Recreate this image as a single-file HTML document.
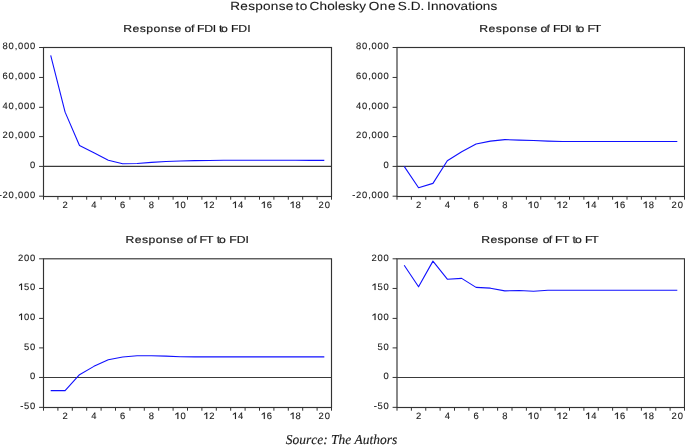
<!DOCTYPE html>
<html><head><meta charset="utf-8"><title>Response to Cholesky One S.D. Innovations</title><style>
html,body{margin:0;padding:0;background:#fff;}
svg{display:block;will-change:transform;}
text{font-family:"Liberation Sans",sans-serif;text-rendering:geometricPrecision;fill:#1a1a1a;stroke:#1a1a1a;}
text.tt{stroke-width:0.1px;}
text.pt{stroke-width:0.18px;}
text.lb{font-size:9.4px;stroke-width:0.12px;}
tspan.o1{fill:none;stroke:none;}
path.one{fill:#1a1a1a;stroke:#1a1a1a;stroke-width:0.12px;}
text.src{font-family:"Liberation Serif",serif;font-style:italic;stroke-width:0.15px;}
</style></head><body>
<svg width="685" height="448" viewBox="0 0 685 448">
<rect width="685" height="448" fill="#fff"/>
<text class="tt" transform="scale(1.15,1)" x="200.19 208.96 215.77 221.92 228.73 235.54 242.35 248.5 255.32 256.95 260.62 267.57 269.24 277.84 284.49 291.13 293.84 300.48 306.46 312.45 318.43 320.6 330.29 337.37 344.45 345.9 353.83 357.16 365.73 369.06 371.37 374.71 381.33 387.96 394.58 400.54 407.16 410.5 413.18 419.8 426.43" y="10" font-size="11.8">Response to Cholesky One S.D. Innovations</text>
<text class="pt" transform="scale(1.2,1)" x="102.77 110.48 116.5 121.95 127.97 133.99 140.02 145.46 151.49 153.68 159.23 161.94 164.27 170.16 177.2 179.7 182.43 184.25 188.9 192.48 198.64 205.95" y="32" font-size="10.2">Response of FDI to FDI</text>
<text class="pt" transform="scale(1.2,1)" x="399.43 407.15 413.17 418.62 424.64 430.66 436.68 442.13 448.15 450.43 455.39 457.52 460.93 466.71 473.61 475.99 479.68 481.16 485.49 489.68 494.9" y="32" font-size="10.2">Response of FDI to FT</text>
<text class="pt" transform="scale(1.2,1)" x="104.68 112.36 118.35 123.76 129.75 135.73 141.72 147.13 153.12 155.68 161.31 164.11 166.35 171.73 177.11 180.6 182.58 187.4 191.1 197.29 204.61" y="243" font-size="10.2">Response of FT to FDI</text>
<text class="pt" transform="scale(1.2,1)" x="401.1 408.7 414.6 419.93 425.83 431.73 437.64 442.96 448.87 452.34 457.39 459.61 462.6 468.4 474.2 477.18 479.25 484.15 487.52 492.73" y="243" font-size="10.2">Response of FT to FT</text>
<rect x="43.5" y="47.5" width="288.0" height="149.0" fill="none" stroke="#333333" stroke-width="1.15"/>
<line x1="43.5" y1="166.4" x2="331.5" y2="166.4" stroke="#3a3a3a" stroke-width="1.15"/>
<path d="M39.1 196.2H43.5M39.1 166.4H43.5M39.1 136.6H43.5M39.1 107.3H43.5M39.1 77.45H43.5M39.1 47.5H43.5M43.5 196.5V199.7M57.9 196.5V199.7M72.3 196.5V199.7M86.7 196.5V199.7M101.1 196.5V199.7M115.5 196.5V199.7M129.9 196.5V199.7M144.3 196.5V199.7M158.7 196.5V199.7M173.1 196.5V199.7M187.5 196.5V199.7M201.9 196.5V199.7M216.3 196.5V199.7M230.7 196.5V199.7M245.1 196.5V199.7M259.5 196.5V199.7M273.9 196.5V199.7M288.3 196.5V199.7M302.7 196.5V199.7M317.1 196.5V199.7M331.5 196.5V199.7" stroke="#333333" stroke-width="1" fill="none"/>
<polyline points="50.7,55.38 65.1,112.15 79.5,145.59 93.9,152.73 108.3,160.16 122.7,163.72 137.1,163.43 151.5,162.39 165.9,161.5 180.3,161.05 194.7,160.6 209.1,160.46 223.5,160.31 237.9,160.31 252.3,160.31 266.7,160.31 281.1,160.31 295.5,160.31 309.9,160.38 324.3,160.38" fill="none" stroke="#1010ff" stroke-width="1.1" stroke-linejoin="round"/>
<rect x="397.0" y="47.5" width="287.5" height="149.0" fill="none" stroke="#333333" stroke-width="1.15"/>
<line x1="397.0" y1="166.4" x2="684.5" y2="166.4" stroke="#3a3a3a" stroke-width="1.15"/>
<path d="M392.6 196.2H397.0M392.6 166.4H397.0M392.6 136.6H397.0M392.6 107.3H397.0M392.6 77.45H397.0M392.6 47.5H397.0M397 196.5V199.7M411.38 196.5V199.7M425.75 196.5V199.7M440.12 196.5V199.7M454.5 196.5V199.7M468.88 196.5V199.7M483.25 196.5V199.7M497.62 196.5V199.7M512 196.5V199.7M526.38 196.5V199.7M540.75 196.5V199.7M555.12 196.5V199.7M569.5 196.5V199.7M583.88 196.5V199.7M598.25 196.5V199.7M612.62 196.5V199.7M627 196.5V199.7M641.38 196.5V199.7M655.75 196.5V199.7M670.12 196.5V199.7M684.5 196.5V199.7" stroke="#333333" stroke-width="1" fill="none"/>
<polyline points="404.19,166.4 418.56,187.71 432.94,183.39 447.31,160.75 461.69,151.69 476.06,143.96 490.44,141.13 504.81,139.65 519.19,140.09 533.56,140.54 547.94,141.13 562.31,141.43 576.69,141.43 591.06,141.43 605.44,141.43 619.81,141.43 634.19,141.43 648.56,141.43 662.94,141.43 677.31,141.43" fill="none" stroke="#1010ff" stroke-width="1.1" stroke-linejoin="round"/>
<rect x="43.5" y="258.8" width="288.0" height="148.7" fill="none" stroke="#333333" stroke-width="1.15"/>
<line x1="43.5" y1="377.45" x2="331.5" y2="377.45" stroke="#3a3a3a" stroke-width="1.15"/>
<path d="M39.1 407.35H43.5M39.1 377.45H43.5M39.1 347.9H43.5M39.1 318.4H43.5M39.1 288.45H43.5M39.1 258.8H43.5M43.5 407.5V410.7M57.9 407.5V410.7M72.3 407.5V410.7M86.7 407.5V410.7M101.1 407.5V410.7M115.5 407.5V410.7M129.9 407.5V410.7M144.3 407.5V410.7M158.7 407.5V410.7M173.1 407.5V410.7M187.5 407.5V410.7M201.9 407.5V410.7M216.3 407.5V410.7M230.7 407.5V410.7M245.1 407.5V410.7M259.5 407.5V410.7M273.9 407.5V410.7M288.3 407.5V410.7M302.7 407.5V410.7M317.1 407.5V410.7M331.5 407.5V410.7" stroke="#333333" stroke-width="1" fill="none"/>
<polyline points="50.7,390.61 65.1,390.61 79.5,374.66 93.9,366.36 108.3,359.77 122.7,356.98 137.1,355.68 151.5,355.68 165.9,356.09 180.3,356.69 194.7,356.86 209.1,356.92 223.5,356.92 237.9,356.92 252.3,356.92 266.7,356.92 281.1,356.92 295.5,356.92 309.9,356.92 324.3,356.92" fill="none" stroke="#1010ff" stroke-width="1.1" stroke-linejoin="round"/>
<rect x="397.0" y="258.8" width="287.5" height="148.7" fill="none" stroke="#333333" stroke-width="1.15"/>
<line x1="397.0" y1="377.45" x2="684.5" y2="377.45" stroke="#3a3a3a" stroke-width="1.15"/>
<path d="M392.6 407.35H397.0M392.6 377.45H397.0M392.6 347.9H397.0M392.6 318.4H397.0M392.6 288.45H397.0M392.6 258.8H397.0M397 407.5V410.7M411.38 407.5V410.7M425.75 407.5V410.7M440.12 407.5V410.7M454.5 407.5V410.7M468.88 407.5V410.7M483.25 407.5V410.7M497.62 407.5V410.7M512 407.5V410.7M526.38 407.5V410.7M540.75 407.5V410.7M555.12 407.5V410.7M569.5 407.5V410.7M583.88 407.5V410.7M598.25 407.5V410.7M612.62 407.5V410.7M627 407.5V410.7M641.38 407.5V410.7M655.75 407.5V410.7M670.12 407.5V410.7M684.5 407.5V410.7" stroke="#333333" stroke-width="1" fill="none"/>
<polyline points="404.19,265.21 418.56,286.8 432.94,261.11 447.31,279.21 461.69,278.38 476.06,287.39 490.44,288.17 504.81,290.89 519.19,290.48 533.56,291.19 547.94,290.3 562.31,290.24 576.69,290.24 591.06,290.24 605.44,290.24 619.81,290.24 634.19,290.24 648.56,290.24 662.94,290.24 677.31,290.24" fill="none" stroke="#1010ff" stroke-width="1.1" stroke-linejoin="round"/>
<text class="lb" x="-1.34 2.59 8.62 14.64 18.06 24.08 30.11" y="198">-20,000</text>
<text class="lb" x="30.11" y="168">0</text>
<text class="lb" x="2.59 8.62 14.64 18.06 24.08 30.11" y="138">20,000</text>
<text class="lb" x="2.59 8.62 14.64 18.06 24.08 30.11" y="109">40,000</text>
<text class="lb" x="2.59 8.62 14.64 18.06 24.08 30.11" y="79">60,000</text>
<text class="lb" x="2.59 8.62 14.64 18.06 24.08 30.11" y="49">80,000</text>
<text class="lb" x="62.49" y="208">2</text>
<text class="lb" x="91.34" y="208">4</text>
<text class="lb" x="120.04" y="208">6</text>
<text class="lb" x="148.87" y="208">8</text>
<text class="lb" x="174.37 180.4" y="208"><tspan class="o1">1</tspan>0</text>
<text class="lb" x="203.24 209.27" y="208"><tspan class="o1">1</tspan>2</text>
<text class="lb" x="231.95 237.98" y="208"><tspan class="o1">1</tspan>4</text>
<text class="lb" x="260.8 266.82" y="208"><tspan class="o1">1</tspan>6</text>
<text class="lb" x="289.6 295.62" y="208"><tspan class="o1">1</tspan>8</text>
<text class="lb" x="318.61 324.63" y="208">20</text>
<text class="lb" x="352.16 356.09 362.12 368.14 371.56 377.58 383.61" y="198">-20,000</text>
<text class="lb" x="383.61" y="168">0</text>
<text class="lb" x="356.09 362.12 368.14 371.56 377.58 383.61" y="138">20,000</text>
<text class="lb" x="356.09 362.12 368.14 371.56 377.58 383.61" y="109">40,000</text>
<text class="lb" x="356.09 362.12 368.14 371.56 377.58 383.61" y="79">60,000</text>
<text class="lb" x="356.09 362.12 368.14 371.56 377.58 383.61" y="49">80,000</text>
<text class="lb" x="415.95" y="208">2</text>
<text class="lb" x="444.75" y="208">4</text>
<text class="lb" x="473.41" y="208">6</text>
<text class="lb" x="502.18" y="208">8</text>
<text class="lb" x="527.63 533.66" y="208"><tspan class="o1">1</tspan>0</text>
<text class="lb" x="556.46 562.48" y="208"><tspan class="o1">1</tspan>2</text>
<text class="lb" x="585.11 591.14" y="208"><tspan class="o1">1</tspan>4</text>
<text class="lb" x="613.91 619.94" y="208"><tspan class="o1">1</tspan>6</text>
<text class="lb" x="642.66 648.69" y="208"><tspan class="o1">1</tspan>8</text>
<text class="lb" x="671.62 677.65" y="208">20</text>
<text class="lb" x="20.15 24.08 30.11" y="409">-50</text>
<text class="lb" x="30.11" y="379">0</text>
<text class="lb" x="24.08 30.11" y="350">50</text>
<text class="lb" x="18.06 24.08 30.11" y="320"><tspan class="o1">1</tspan>00</text>
<text class="lb" x="18.06 24.08 30.11" y="290"><tspan class="o1">1</tspan>50</text>
<text class="lb" x="18.06 24.08 30.11" y="261">200</text>
<text class="lb" x="62.49" y="419">2</text>
<text class="lb" x="91.34" y="419">4</text>
<text class="lb" x="120.04" y="419">6</text>
<text class="lb" x="148.87" y="419">8</text>
<text class="lb" x="174.37 180.4" y="419"><tspan class="o1">1</tspan>0</text>
<text class="lb" x="203.24 209.27" y="419"><tspan class="o1">1</tspan>2</text>
<text class="lb" x="231.95 237.98" y="419"><tspan class="o1">1</tspan>4</text>
<text class="lb" x="260.8 266.82" y="419"><tspan class="o1">1</tspan>6</text>
<text class="lb" x="289.6 295.62" y="419"><tspan class="o1">1</tspan>8</text>
<text class="lb" x="318.61 324.63" y="419">20</text>
<text class="lb" x="373.65 377.58 383.61" y="409">-50</text>
<text class="lb" x="383.61" y="379">0</text>
<text class="lb" x="377.58 383.61" y="350">50</text>
<text class="lb" x="371.56 377.58 383.61" y="320"><tspan class="o1">1</tspan>00</text>
<text class="lb" x="371.56 377.58 383.61" y="290"><tspan class="o1">1</tspan>50</text>
<text class="lb" x="371.56 377.58 383.61" y="261">200</text>
<text class="lb" x="415.95" y="419">2</text>
<text class="lb" x="444.75" y="419">4</text>
<text class="lb" x="473.41" y="419">6</text>
<text class="lb" x="502.18" y="419">8</text>
<text class="lb" x="527.63 533.66" y="419"><tspan class="o1">1</tspan>0</text>
<text class="lb" x="556.46 562.48" y="419"><tspan class="o1">1</tspan>2</text>
<text class="lb" x="585.11 591.14" y="419"><tspan class="o1">1</tspan>4</text>
<text class="lb" x="613.91 619.94" y="419"><tspan class="o1">1</tspan>6</text>
<text class="lb" x="642.66 648.69" y="419"><tspan class="o1">1</tspan>8</text>
<text class="lb" x="671.62 677.65" y="419">20</text>
<path class="one" d="M177.38,208 178.37,208 178.37,201.42 177.66,201.42 175.31,203.11 175.31,204.05 177.38,202.64ZM206.25,208 207.24,208 207.24,201.42 206.53,201.42 204.18,203.11 204.18,204.05 206.25,202.64ZM234.96,208 235.94,208 235.94,201.42 235.24,201.42 232.89,203.11 232.89,204.05 234.96,202.64ZM263.8,208 264.79,208 264.79,201.42 264.09,201.42 261.74,203.11 261.74,204.05 263.8,202.64ZM292.6,208 293.59,208 293.59,201.42 292.89,201.42 290.54,203.11 290.54,204.05 292.6,202.64ZM530.64,208 531.63,208 531.63,201.42 530.92,201.42 528.57,203.11 528.57,204.05 530.64,202.64ZM559.46,208 560.45,208 560.45,201.42 559.75,201.42 557.4,203.11 557.4,204.05 559.46,202.64ZM588.12,208 589.11,208 589.11,201.42 588.4,201.42 586.05,203.11 586.05,204.05 588.12,202.64ZM616.92,208 617.9,208 617.9,201.42 617.2,201.42 614.85,203.11 614.85,204.05 616.92,202.64ZM645.67,208 646.65,208 646.65,201.42 645.95,201.42 643.6,203.11 643.6,204.05 645.67,202.64ZM21.06,320 22.05,320 22.05,313.42 21.35,313.42 19,315.11 19,316.05 21.06,314.64ZM21.06,290 22.05,290 22.05,283.42 21.35,283.42 19,285.11 19,286.05 21.06,284.64ZM177.38,419 178.37,419 178.37,412.42 177.66,412.42 175.31,414.11 175.31,415.05 177.38,413.64ZM206.25,419 207.24,419 207.24,412.42 206.53,412.42 204.18,414.11 204.18,415.05 206.25,413.64ZM234.96,419 235.94,419 235.94,412.42 235.24,412.42 232.89,414.11 232.89,415.05 234.96,413.64ZM263.8,419 264.79,419 264.79,412.42 264.09,412.42 261.74,414.11 261.74,415.05 263.8,413.64ZM292.6,419 293.59,419 293.59,412.42 292.89,412.42 290.54,414.11 290.54,415.05 292.6,413.64ZM374.56,320 375.55,320 375.55,313.42 374.85,313.42 372.5,315.11 372.5,316.05 374.56,314.64ZM374.56,290 375.55,290 375.55,283.42 374.85,283.42 372.5,285.11 372.5,286.05 374.56,284.64ZM530.64,419 531.63,419 531.63,412.42 530.92,412.42 528.57,414.11 528.57,415.05 530.64,413.64ZM559.46,419 560.45,419 560.45,412.42 559.75,412.42 557.4,414.11 557.4,415.05 559.46,413.64ZM588.12,419 589.11,419 589.11,412.42 588.4,412.42 586.05,414.11 586.05,415.05 588.12,413.64ZM616.92,419 617.9,419 617.9,412.42 617.2,412.42 614.85,414.11 614.85,415.05 616.92,413.64ZM645.67,419 646.65,419 646.65,412.42 645.95,412.42 643.6,414.11 643.6,415.05 645.67,413.64Z"/>
<text class="src" transform="scale(0.99,1)" x="288.64 295.44 302.24 309.04 314.33 320.37 326.41 330.94 334.34 341.9 348.7 354.74 358.14 366.44 373.24 377.02 383.82 390.62 395.91" y="444" font-size="13.6">Source: The Authors</text>
</svg>
</body></html>
